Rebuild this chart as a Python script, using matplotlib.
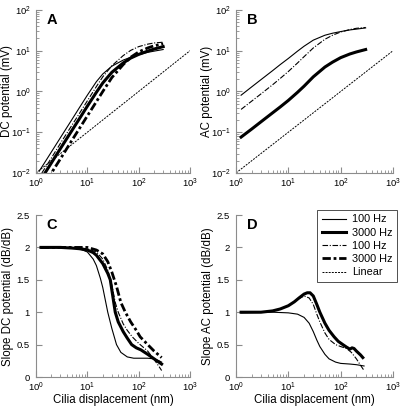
import numpy as np
import matplotlib
matplotlib.use('Agg')
import matplotlib.pyplot as plt
from matplotlib.lines import Line2D
from matplotlib.ticker import FormatStrFormatter

plt.rcParams['font.family'] = ['Liberation Sans', 'DejaVu Sans']
plt.rcParams['mathtext.fontset'] = 'custom'
plt.rcParams['mathtext.rm'] = 'Liberation Sans'

# =============================================================================
# DATA
# =============================================================================
# Panel A - DC potential (mV)
a_x_100 = [1.15, 1.5, 2, 3, 5, 7, 10, 15, 20, 30, 50, 70, 100, 150, 200, 300]
a_y_100 = [0.011, 0.0186, 0.033, 0.074, 0.204, 0.40, 0.81, 1.74, 2.69, 4.17,
           5.89, 6.92, 7.94, 9.12, 9.77, 10.7]
a_x_3000 = [1.3, 1.5, 2, 3, 5, 7, 10, 15, 20, 30, 50, 70, 100, 150, 200, 300]
a_y_3000 = [0.0076, 0.010, 0.0178, 0.040, 0.110, 0.214, 0.436, 0.955, 1.62,
            2.95, 5.01, 6.61, 8.13, 9.77, 11.0, 12.6]
a_x_100b = [1.3, 2, 3, 5, 7, 10, 15, 20, 30, 50, 70, 100, 150, 200, 300]
a_y_100b = [0.010, 0.0234, 0.0537, 0.148, 0.288, 0.589, 1.32, 2.29, 4.27,
            7.6, 10.2, 12.6, 14.5, 15.5, 16.2]
a_x_3000b = [1.6, 2, 3, 5, 7, 10, 15, 20, 30, 50, 70, 100, 150, 200, 300]
a_y_3000b = [0.0065, 0.010, 0.0224, 0.063, 0.123, 0.251, 0.562, 1.0, 2.19,
             4.57, 6.92, 9.33, 11.7, 13.2, 14.8]

# Panel B - AC potential (mV)
b_x = [1.25, 2, 3, 5, 7, 10, 15, 20, 30, 50, 70, 100, 150, 200, 300]
b_y_100 = [0.81, 1.30, 1.95, 3.24, 4.57, 6.46, 9.77, 12.9, 18.2, 24.0, 26.9,
           29.5, 32.4, 33.9, 36.3]
b_y_100b = [0.363, 0.581, 0.871, 1.46, 2.09, 3.09, 5.01, 7.16, 11.7, 19.1,
            24.0, 28.8, 33.1, 35.5, 37.2]
b_y_3000 = [0.0759, 0.120, 0.180, 0.299, 0.417, 0.603, 0.955, 1.35, 2.29,
            3.98, 5.25, 6.76, 8.32, 9.33, 10.7]

lin_x = [1, 1000]
lin_y = [0.01, 10]

# Panel C - slope of DC potential (dB/dB)
c_x_100 = [1.25, 2, 3, 5, 7, 10, 13, 15, 18, 20, 25, 30, 37, 45, 60, 80, 100,
           150, 200, 250, 280]
c_y_100 = [2.0, 2.0, 2.0, 1.99, 1.98, 1.93, 1.82, 1.72, 1.52, 1.38, 1.0, 0.75,
           0.5, 0.38, 0.31, 0.29, 0.29, 0.29, 0.28, 0.25, 0.23]
c_x_3000 = [1.25, 2, 3, 5, 7, 10, 13, 15, 20, 25, 28, 32, 35, 40, 50, 60, 73,
            90, 110, 150, 200, 280]
c_y_3000 = [2.0, 2.0, 2.0, 1.99, 1.98, 1.96, 1.92, 1.88, 1.75, 1.6, 1.5, 1.2,
            1.0, 0.85, 0.7, 0.6, 0.5, 0.45, 0.42, 0.35, 0.28, 0.2]
c_x_100b = [1.25, 5, 10, 15, 20, 25, 30, 35, 40, 50, 60, 75, 100, 150, 200,
            250, 280]
c_y_100b = [2.0, 2.0, 1.98, 1.93, 1.82, 1.65, 1.42, 1.15, 1.0, 0.82, 0.72,
            0.62, 0.52, 0.4, 0.27, 0.16, 0.1]
c_x_3000b = [1.25, 10, 15, 20, 25, 30, 37, 45, 55, 70, 90, 107, 150, 200, 280]
c_y_3000b = [2.0, 2.0, 1.96, 1.9, 1.78, 1.62, 1.4, 1.15, 1.0, 0.85, 0.72,
             0.62, 0.5, 0.4, 0.3]

# Panel D - slope of AC potential (dB/dB)
d_x_100 = [1.25, 5, 10, 15, 20, 25, 30, 35, 40, 50, 60, 80, 100, 150, 200,
           280]
d_y_100 = [0.99, 1.0, 0.99, 0.97, 0.92, 0.83, 0.7, 0.57, 0.47, 0.35, 0.28,
           0.23, 0.21, 0.2, 0.19, 0.17]
d_x_3000 = [1.25, 2, 3, 5, 7, 10, 13, 16, 20, 23, 26, 30, 35, 40, 50, 60, 75,
            90, 110, 130, 150, 165, 180, 200, 240, 265]
d_y_3000 = [1.0, 1.0, 1.0, 1.02, 1.05, 1.1, 1.16, 1.22, 1.28, 1.3, 1.3, 1.25,
            1.12, 1.0, 0.83, 0.72, 0.62, 0.55, 0.5, 0.46, 0.43, 0.45, 0.44,
            0.4, 0.34, 0.3]
d_x_100b = [1.25, 2, 3, 5, 7, 10, 13, 16, 20, 25, 30, 35, 40, 50, 60, 80, 100,
            130, 160, 200, 240, 280]
d_y_100b = [1.0, 1.0, 1.0, 1.02, 1.05, 1.1, 1.16, 1.21, 1.25, 1.22, 1.12,
            0.97, 0.85, 0.68, 0.58, 0.5, 0.47, 0.44, 0.38, 0.28, 0.18, 0.1]

legend_labels = ['100 Hz', '3000 Hz', '100 Hz', '3000 Hz', 'Linear']

# =============================================================================
# STYLE
# =============================================================================
SPINE = '#8c8c8c'
THIN = dict(color='black', lw=0.8, ls='-')
THICK = dict(color='black', lw=2.2, ls='-')
THIN_DD = dict(color='black', lw=0.8, ls=(0, (5, 1.5, 1, 1.5)))
THICK_DD = dict(color='black', lw=2.0, ls=(0, (3, 1, 1, 1)))
LIN = dict(color='black', lw=0.7, ls=(0, (2, 1.2)))
TICK_FS = 6.8
LABEL_FS = 8.3


def style(ax, letter, logy):
    for s in ['top', 'right']:
        ax.spines[s].set_visible(False)
    for s in ['left', 'bottom']:
        ax.spines[s].set_color(SPINE)
        ax.spines[s].set_linewidth(0.8)
    ax.set_xscale('log')
    ax.set_xlim(1, 1000)
    if logy:
        ax.set_yscale('log')
        ax.set_ylim(0.01, 100)
    else:
        ax.set_ylim(0, 2.5)
        ax.set_yticks([0, 0.5, 1, 1.5, 2, 2.5])
        ax.yaxis.set_major_formatter(FormatStrFormatter('%g'))
    ax.tick_params(which='both', direction='in', color=SPINE,
                   labelsize=TICK_FS, top=False, right=False)
    ax.tick_params(axis='x', which='both', pad=3)
    ax.tick_params(axis='y', which='both', pad=4.5 if not logy else 3.5)
    ax.tick_params(which='major', length=4, width=0.8)
    ax.tick_params(which='minor', length=2, width=0.6)
    if not logy:
        ax.tick_params(axis='y', which='minor', left=False)
    ax.text(0.07, 0.94, letter, transform=ax.transAxes, fontsize=10.5,
            fontweight='bold', ha='left', va='center')


fig = plt.figure(figsize=(4.0, 4.07), dpi=100)
axA = fig.add_axes([0.09, 0.575, 0.385, 0.4005])
axB = fig.add_axes([0.59, 0.575, 0.3925, 0.4005])
axC = fig.add_axes([0.09, 0.0737, 0.385, 0.398])
axD = fig.add_axes([0.59, 0.0737, 0.3925, 0.398])

# A
axA.plot(lin_x, lin_y, **LIN)
axA.plot(a_x_100, a_y_100, **THIN)
axA.plot(a_x_100b, a_y_100b, **THIN_DD)
axA.plot(a_x_3000, a_y_3000, **THICK)
axA.plot(a_x_3000b, a_y_3000b, **THICK_DD)
style(axA, 'A', True)
axA.set_ylabel('DC potential (mV)', fontsize=LABEL_FS)
axA.yaxis.set_label_coords(-0.148, 0.5)

# B
axB.plot(lin_x, lin_y, **LIN)
axB.plot(b_x, b_y_100, **THIN)
axB.plot(b_x, b_y_100b, **THIN_DD)
axB.plot(b_x, b_y_3000, **THICK)
style(axB, 'B', True)
axB.set_ylabel('AC potential (mV)', fontsize=LABEL_FS)
axB.yaxis.set_label_coords(-0.148, 0.5)

# C
axC.plot(c_x_100, c_y_100, **THIN)
axC.plot(c_x_100b, c_y_100b, **THIN_DD)
axC.plot(c_x_3000, c_y_3000, **THICK)
axC.plot(c_x_3000b, c_y_3000b, **THICK_DD)
style(axC, 'C', False)
axC.set_ylabel('Slope DC potential (dB/dB)', fontsize=LABEL_FS)
axC.yaxis.set_label_coords(-0.14, 0.5)
axC.set_xlabel('Cilia displacement (nm)', fontsize=LABEL_FS)
axC.xaxis.set_label_coords(0.5, -0.108)

# D
axD.plot(d_x_100, d_y_100, **THIN)
axD.plot(d_x_100b, d_y_100b, **THIN_DD)
axD.plot(d_x_3000, d_y_3000, **THICK)
style(axD, 'D', False)
axD.set_ylabel('Slope AC potential (dB/dB)', fontsize=LABEL_FS)
axD.yaxis.set_label_coords(-0.14, 0.5)
axD.set_xlabel('Cilia displacement (nm)', fontsize=LABEL_FS)
axD.xaxis.set_label_coords(0.5, -0.108)

handles = [Line2D([], [], **THIN), Line2D([], [], **THICK),
           Line2D([], [], **THIN_DD), Line2D([], [], **THICK_DD),
           Line2D([], [], **LIN)]
leg = axD.legend(handles, legend_labels, loc='upper right',
                 bbox_to_anchor=(1.025, 1.03), fontsize=7.8, frameon=True,
                 fancybox=False, handlelength=2.2, handletextpad=0.6,
                 borderpad=0.4, labelspacing=0.3, borderaxespad=0.0)
leg.get_frame().set_edgecolor('black')
leg.get_frame().set_linewidth(0.6)

fig.savefig('out.png', dpi=100)
